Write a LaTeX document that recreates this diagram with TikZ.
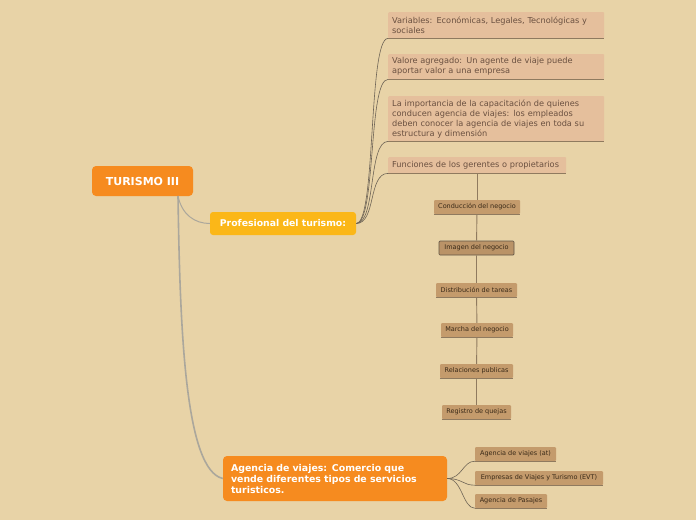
\documentclass[tikz,border=0pt]{standalone}
\usepackage{fontspec}
\setmainfont{DejaVu Sans}
\definecolor{bg}{HTML}{E8D3A7}
\definecolor{orng}{HTML}{F68B1F}
\definecolor{yell}{HTML}{FBB718}
\definecolor{salm}{HTML}{E5BF9C}
\definecolor{tan}{HTML}{C49B6C}
\definecolor{tanline}{HTML}{8F7A5F}
\definecolor{toptxt}{HTML}{6A5040}
\definecolor{subtxt}{HTML}{3A2A18}
\definecolor{rootln}{HTML}{ABA79C}
\definecolor{topln}{HTML}{6E6456}
\tikzset{
  mainbox/.style={fill=orng, rounded corners=4pt, text=white, font=\bfseries\fontsize{9.4}{11}\selectfont, inner sep=0pt, align=left},
  profbox/.style={fill=yell, rounded corners=3pt, text=white, font=\bfseries\fontsize{9.3}{11}\selectfont, inner sep=0pt},
  topicbox/.style={fill=salm, text=toptxt, font=\fontsize{8.2}{10}\selectfont, inner xsep=4pt, inner ysep=2pt, align=left, anchor=north west, rounded corners=1pt},
  subbox/.style={fill=tan, text=subtxt, font=\fontsize{6.5}{8}\selectfont, inner sep=0pt, rounded corners=1pt},
  ul/.style={draw=tanline, line width=0.7pt},
  rootline/.style={draw=rootln, line width=1.6pt},
  topline/.style={draw=topln, line width=0.6pt},
  stem/.style={draw=tanline, line width=0.9pt},
}
\begin{document}
\begin{tikzpicture}[x=1pt, y=-1pt]
\useasboundingbox[fill=bg] (0,0) rectangle (696,520);
% root
\node[fill=orng, rounded corners=4pt, text=white, font=\bfseries\fontsize{11}{12}\selectfont, minimum width=101pt, minimum height=30pt, inner sep=0pt] (root) at (142.5,181) {TURISMO III};
\node[profbox, minimum width=146pt, minimum height=23pt] (prof) at (283,223.5) {Profesional del turismo:};
\node[mainbox, minimum width=224pt, minimum height=45pt, text width=208pt] (agen) at (335,478.5) {Agencia de viajes: Comercio que\\vende diferentes tipos de servicios\\turisticos.};
% topic boxes
\node[topicbox, minimum width=216pt, minimum height=26pt, text width=208pt] (t1) at (388,12) {Variables: Económicas, Legales, Tecnológicas y\\sociales};
\node[topicbox, minimum width=216pt, minimum height=25pt, text width=208pt] (t2) at (388,54) {Valore agregado: Un agente de viaje puede\\aportar valor a una empresa};
\node[topicbox, minimum width=216pt, minimum height=45pt, text width=208pt] (t3) at (388,96) {La importancia de la capacitación de quienes\\conducen agencia de viajes: los empleados\\deben conocer la agencia de viajes en toda su\\estructura y dimensión};
\node[topicbox, minimum width=178pt, minimum height=16pt, text width=170pt] (t4) at (388,157) {Funciones de los gerentes o propietarios};
\foreach \n in {t1,t2,t3,t4} {\draw[ul] (\n.south west) -- (\n.south east);}
% sub nodes
\node[subbox, minimum width=86pt, minimum height=14pt] (s1) at (477,207) {Conducción del negocio};
\node[subbox, minimum width=75pt, minimum height=14pt, draw=subtxt!80, line width=0.7pt, fill=tan!95!black] (s2) at (476.5,248) {Imagen del negocio};
\node[subbox, minimum width=81pt, minimum height=14pt] (s3) at (476.5,290) {Distribución de tareas};
\node[subbox, minimum width=72pt, minimum height=14pt] (s4) at (477,330) {Marcha del negocio};
\node[subbox, minimum width=73pt, minimum height=14pt] (s5) at (476.5,371) {Relaciones publicas};
\node[subbox, minimum width=69pt, minimum height=14pt] (s6) at (476.5,412) {Registro de quejas};
% agencia children
\node[subbox, minimum width=81pt, minimum height=14pt] (a1) at (515.5,454) {Agencia de viajes (at)};
\node[subbox, minimum width=128pt, minimum height=14pt] (a2) at (539,478) {Empresas de Viajes y Turismo (EVT)};
\node[subbox, minimum width=72pt, minimum height=14pt] (a3) at (511,501) {Agencia de Pasajes};
\foreach \n in {s1,s3,s4,s5,s6,a1,a2,a3} {\draw[ul] (\n.south west) -- (\n.south east);}
% connectors
\coordinate (rb) at (178,196);
\draw[rootline, line width=1pt] (rb) .. controls (182,215) and (195,223.5) .. (prof.west);
\draw[rootline] (rb) .. controls (180,330) and (185,470) .. (agen.west);
\foreach \n in {t1,t2,t3,t4} {
  \draw[topline] (prof.east) .. controls +(20,0) and +(-20,0) .. (\n.south west);
}
\draw[stem] (t4.south -| s1.north) -- (s1.north);
\draw[stem] (s1) -- (s2) -- (s3) -- (s4) -- (s5) -- (s6);
\foreach \n in {a1,a2,a3} {
  \draw[topline] (agen.east) .. controls +(15,0) and +(-12,0) .. (\n.south west);
}
\end{tikzpicture}
\end{document}
